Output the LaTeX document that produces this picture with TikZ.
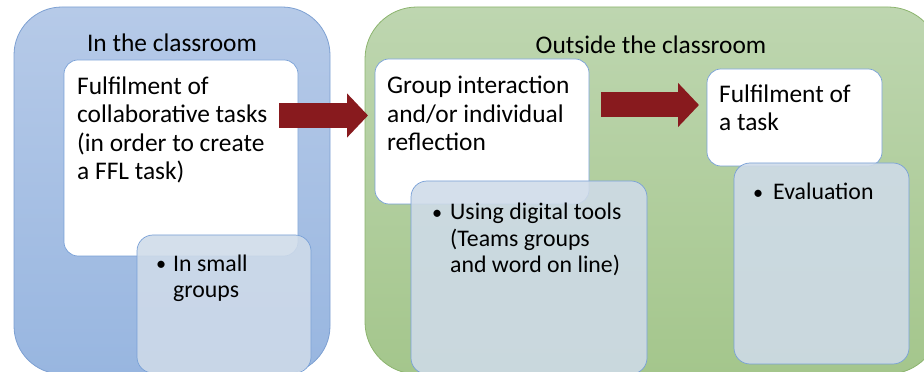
\documentclass[tikz,border=0pt]{standalone}
\usepackage{fontspec}
\setmainfont{Carlito}
\usetikzlibrary{arrows.meta}
\definecolor{bluetop}{RGB}{182,202,232}
\definecolor{bluebot}{RGB}{152,182,224}
\definecolor{blueedge}{RGB}{125,160,210}
\definecolor{greentop}{RGB}{190,214,176}
\definecolor{greenbot}{RGB}{164,198,140}
\definecolor{greenedge}{RGB}{140,180,110}
\definecolor{lightfill}{RGB}{207,219,233}
\definecolor{boxedge}{RGB}{120,160,215}
\definecolor{arrowred}{RGB}{136,26,30}
\tikzset{
  whitebox/.style={draw=boxedge, fill=white, line width=0.7pt, rounded corners=14pt},
  lightbox/.style={draw=boxedge, fill=lightfill, fill opacity=0.88, line width=0.7pt, rounded corners=16pt},
  maintext/.style={font=\fontsize{25.4}{28.5}\selectfont, align=left, anchor=base west, inner sep=0pt},
  bullettext/.style={font=\fontsize{23.8}{26.5}\selectfont, align=left, anchor=base west, inner sep=0pt},
  titletext/.style={font=\fontsize{25.4}{28.5}\selectfont, anchor=base, inner sep=0pt},
  bigarrow/.style={draw=arrowred, line width=25pt, -{Triangle[length=21pt,width=43pt]}}
}
\newcommand{\bul}[1]{\makebox[#1pt][l]{\raisebox{0.6pt}{\scalebox{0.85}{•}}}}
\newcommand{\ind}[1]{\hspace*{#1pt}}
\begin{document}
\begin{tikzpicture}[x=1pt,y=1pt]
\useasboundingbox (0,0) rectangle (924,372);
\clip (0,0) rectangle (924,372);
% big containers
\path[draw=blueedge, top color=bluetop, bottom color=bluebot, line width=0.8pt, rounded corners=48pt]
  (14,-2) rectangle (330,365);
\path[draw=greenedge, top color=greentop, bottom color=greenbot, line width=0.8pt, rounded corners=52pt]
  (365,-2) rectangle (940,365);
\node[titletext] (t1) at (172,320) {In the classroom};
\node[titletext] (t2) at (651,318) {Outside the classroom};
% left boxes
\node[whitebox, minimum width=234pt, minimum height=196pt] (w1) at (181,214) {};
\node[lightbox, minimum width=174pt, minimum height=138pt] (l1) at (224,68) {};
\node[maintext] (x1) at (77,192) {Fulfilment of\\collaborative tasks\\(in order to create\\a FFL task)};
\node[bullettext] (x2) at (156,74) {\bul{17}In small\\\ind{17}groups};
% middle boxes
\node[whitebox, minimum width=214pt, minimum height=145pt] (w2) at (482,240.5) {};
\node[lightbox, minimum width=236pt, minimum height=193pt] (l2) at (529,94.5) {};
\node[maintext] (x3) at (387,221) {Group interaction\\and/or individual\\reflection};
\node[bullettext] (x4) at (432,99) {\bul{18}Using digital tools\\\ind{18}(Teams groups\\\ind{18}and word on line)};
% right boxes
\node[whitebox, minimum width=175pt, minimum height=97pt] (w3) at (794.5,254.5) {};
\node[lightbox, minimum width=175pt, minimum height=201pt] (l3) at (821.5,108.5) {};
\node[maintext] (x5) at (719,241) {Fulfilment of\\a task};
\node[bullettext] (x6) at (753,172) {\bul{20}Evaluation};
% arrows
\coordinate (a1s) at (279,256.5);
\coordinate (a1e) at (368,256.5);
\coordinate (a2s) at (601,267);
\coordinate (a2e) at (699,267);
\draw[bigarrow] (a1s) -- (a1e);
\draw[bigarrow] (a2s) -- (a2e);
\end{tikzpicture}
\end{document}
